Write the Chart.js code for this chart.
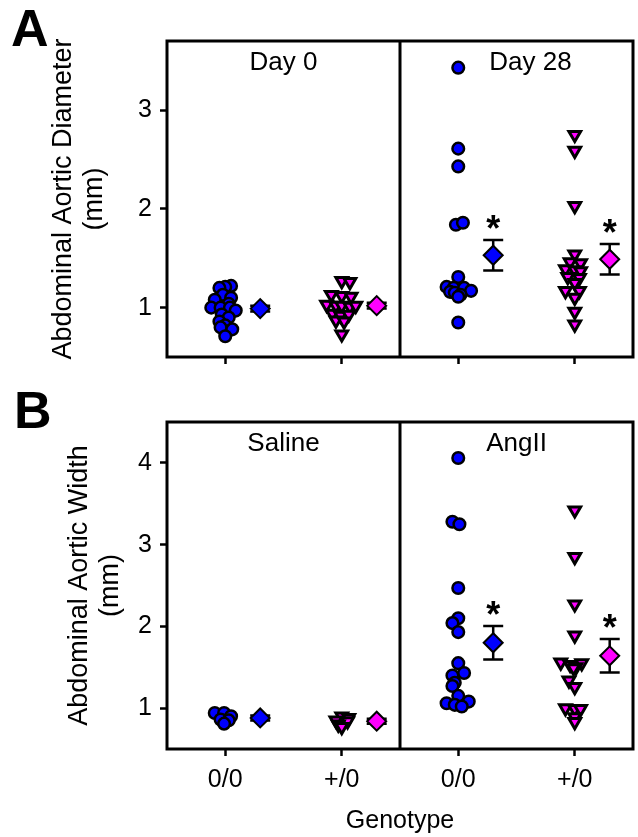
<!DOCTYPE html>
<html>
<head>
<meta charset="utf-8">
<script src="https://cdn.jsdelivr.net/npm/chart.js@4.4.0/dist/chart.umd.min.js"></script>
<style>
  html, body { margin: 0; padding: 0; background: #fff; }
  #wrap { position: relative; width: 638px; height: 837px; }
  #chartA { position: absolute; left: 0; top: 0; }
  #chartB { position: absolute; left: 0; top: 380px; }
</style>
</head>
<body>
<div id="wrap">
  <canvas id="chartA" width="638" height="380"></canvas>
  <canvas id="chartB" width="638" height="457"></canvas>
</div>
<script>
// groups on the x axis (0..3), tick labels
var genotypes = ['0/0', '+/0', '0/0', '+/0'];
var titlesA = ['Day 0', 'Day 28'];
var titlesB = ['Saline', 'AngII'];
var sigA = [false, false, true, true];
var sigB = [false, false, true, true];

// A: abdominal aortic diameter (mm), jitter in group units
var dia_d0_00 = [1.22, 1.21, 1.20, 1.13, 1.10, 1.08, 1.04, 1.00, 1.00, 1.00, 0.97, 0.93, 0.90, 0.86, 0.82, 0.80, 0.78, 0.71];
var dia_d0_00_jit = [0.05, 0.00, -0.05, -0.02, 0.05, -0.09, 0.03, -0.12, -0.04, 0.04, 0.09, -0.03, 0.03, -0.05, 0.00, -0.04, 0.06, 0.00];
var dia_d0_p0 = [1.27, 1.26, 1.13, 1.12, 1.11, 1.03, 1.02, 1.02, 1.01, 1.02, 0.94, 0.92, 0.93, 0.87, 0.86, 0.73];
var dia_d0_p0_jit = [0.00, 0.07, -0.09, 0.00, 0.08, -0.13, -0.05, 0.00, 0.07, 0.12, -0.08, -0.01, 0.06, -0.05, 0.02, 0.00];
var dia_d28_00 = [3.43, 2.61, 2.43, 1.84, 1.86, 1.31, 1.21, 1.20, 1.20, 1.17, 1.16, 1.15, 1.13, 1.11, 0.85];
var dia_d28_00_jit = [0.00, 0.00, 0.00, -0.02, 0.04, 0.00, -0.10, -0.04, 0.05, 0.11, -0.07, -0.03, 0.02, 0.00, 0.00];
var dia_d28_p0 = [2.75, 2.59, 2.03, 1.54, 1.46, 1.45, 1.39, 1.38, 1.37, 1.31, 1.30, 1.25, 1.17, 1.17, 1.10, 0.96, 0.83];
var dia_d28_p0_jit = [0.00, 0.00, 0.00, 0.00, -0.04, 0.05, -0.08, 0.00, 0.05, -0.06, 0.04, 0.00, -0.08, 0.04, 0.00, 0.00, 0.00];
var diaMean = [0.99, 1.02, 1.53, 1.49];
var diaSem = [0.03, 0.03, 0.155, 0.155];

// B: abdominal aortic width (mm)
var wid_sal_00 = [0.94, 0.94, 0.90, 0.86, 0.85, 0.81];
var wid_sal_00_jit = [-0.09, -0.01, 0.05, -0.04, 0.03, -0.01];
var wid_sal_p0 = [0.90, 0.88, 0.85, 0.84, 0.80, 0.77];
var wid_sal_p0_jit = [0.00, 0.06, -0.05, 0.05, -0.03, 0.00];
var wid_ang_00 = [4.06, 3.28, 3.25, 2.47, 2.10, 2.04, 1.93, 1.55, 1.43, 1.40, 1.31, 1.27, 1.15, 1.08, 1.06, 1.04, 1.02];
var wid_ang_00_jit = [0.00, -0.05, 0.01, 0.00, 0.00, -0.05, 0.00, 0.00, 0.05, -0.05, -0.03, -0.05, 0.00, 0.09, -0.10, -0.03, 0.03];
var wid_ang_p0 = [3.42, 2.85, 2.27, 1.89, 1.56, 1.55, 1.53, 1.50, 1.49, 1.34, 1.26, 1.00, 0.99, 0.99, 0.89, 0.83];
var wid_ang_p0_jit = [0.00, 0.00, 0.00, 0.00, -0.12, 0.06, -0.04, 0.01, -0.01, -0.05, 0.00, -0.08, 0.00, 0.05, 0.00, 0.00];
var widMean = [0.88, 0.84, 1.80, 1.64];
var widSem = [0.03, 0.03, 0.205, 0.205];

var FONT = "'Liberation Sans', Arial, sans-serif";
var MEAN_SHIFT = 0.3;
Chart.defaults.font.family = FONT;
Chart.defaults.color = '#000';

function pts(vals, jit, group, style) {
  var ds = {
    data: vals.map(function(v, i) { return {x: group + jit[i], y: v}; }),
    borderColor: '#000',
    pointStyle: style
  };
  if (style === 'circle') {
    ds.backgroundColor = '#0000ff';
    ds.pointRadius = 5.8;
    ds.borderWidth = 2.5;
  } else {
    ds.backgroundColor = '#ff00ff';
    ds.pointRadius = 6.8;
    ds.borderWidth = 3;
    ds.pointRotation = 180;
  }
  return ds;
}

function means(m, groups, color) {
  return {
    data: groups.map(function(g) { return {x: g + MEAN_SHIFT, y: m[g]}; }),
    backgroundColor: color,
    borderColor: '#000',
    borderWidth: 2,
    pointStyle: 'rectRot',
    pointRadius: 9.5
  };
}

var panelPlugin = {
  id: 'panel',
  beforeDatasetsDraw: function(chart, args, o) {
    var ctx = chart.ctx, xs = chart.scales.x, ys = chart.scales.y;
    ctx.save();
    ctx.strokeStyle = '#000';
    ctx.lineWidth = 2.5;
    o.means.forEach(function(m, i) {
      var px = xs.getPixelForValue(i + MEAN_SHIFT);
      var t = ys.getPixelForValue(m + o.sems[i]);
      var b = ys.getPixelForValue(m - o.sems[i]);
      ctx.beginPath();
      ctx.moveTo(px, t); ctx.lineTo(px, b);
      ctx.moveTo(px - 10, t); ctx.lineTo(px + 10, t);
      ctx.moveTo(px - 10, b); ctx.lineTo(px + 10, b);
      ctx.stroke();
    });
    ctx.restore();
  },
  afterDraw: function(chart, args, o) {
    var ctx = chart.ctx, a = chart.chartArea, xs = chart.scales.x, ys = chart.scales.y;
    ctx.save();
    // frame + divider
    ctx.strokeStyle = '#000';
    ctx.lineWidth = 3;
    ctx.strokeRect(a.left, a.top, a.right - a.left, a.bottom - a.top);
    var mid = xs.getPixelForValue(1.5);
    ctx.beginPath();
    ctx.moveTo(mid, a.top); ctx.lineTo(mid, a.bottom);
    ctx.stroke();
    // panel titles
    ctx.fillStyle = '#000';
    ctx.font = '26px ' + FONT;
    ctx.textAlign = 'center';
    ctx.textBaseline = 'alphabetic';
    ctx.fillText(o.titles[0], xs.getPixelForValue(o.titleX[0]), a.top + 29);
    ctx.fillText(o.titles[1], xs.getPixelForValue(o.titleX[1]), a.top + 29);
    // significance stars
    ctx.font = 'bold 36px ' + FONT;
    var ms = ctx.measureText('*');
    var shift = (ms.actualBoundingBoxAscent - ms.actualBoundingBoxDescent) / 2;
    o.sig.forEach(function(s, i) {
      if (!s) return;
      var px = xs.getPixelForValue(i + MEAN_SHIFT);
      var t = ys.getPixelForValue(o.means[i] + o.sems[i]);
      ctx.fillText('*', px, t - 18 + shift);
    });
    // panel letter
    ctx.font = 'bold 52px ' + FONT;
    ctx.textAlign = 'left';
    ctx.fillText(o.letter, o.letterX, o.letterY);
    ctx.restore();
  }
};

function tickGrid() {
  return {drawOnChartArea: false, drawTicks: true, tickLength: 7, tickWidth: 2.5, tickColor: '#000'};
}

function makeChart(id, sets, o) {
  return new Chart(document.getElementById(id), {
    type: 'scatter',
    data: {datasets: sets},
    plugins: [panelPlugin],
    options: {
      responsive: false,
      animation: false,
      layout: {autoPadding: false, padding: {left: 0, right: 5, top: o.top, bottom: 0}},
      plugins: {
        legend: {display: false},
        tooltip: {enabled: false},
        panel: o.panel
      },
      elements: {point: {hoverRadius: 0}},
      scales: {
        x: {
          type: 'linear', min: -0.5, max: 3.5,
          afterBuildTicks: function(s) { s.ticks = [0, 1, 2, 3].map(function(v) { return {value: v}; }); },
          afterFit: function(s) { s.height = o.xHeight; },
          border: {display: false},
          grid: tickGrid(),
          ticks: {
            display: o.xLabels,
            padding: 9,
            font: {size: 25},
            callback: function(v, i) { return genotypes[i]; }
          },
          title: {display: o.xLabels, text: 'Genotype', font: {size: 25}, padding: {top: 0, bottom: 1}}
        },
        y: {
          type: 'linear', min: 0.5, max: o.yMax,
          afterBuildTicks: function(s) { s.ticks = o.yTicks.map(function(v) { return {value: v}; }); },
          afterFit: function(s) { s.width = 167; },
          border: {display: false},
          grid: tickGrid(),
          ticks: {padding: 8, font: {size: 25}},
          title: {
            display: true, text: o.yTitle,
            font: {size: 27, lineHeight: 1.15},
            padding: {top: o.yTitlePad, bottom: 0}
          }
        }
      }
    }
  });
}

makeChart('chartA', [
  pts(dia_d0_00, dia_d0_00_jit, 0, 'circle'),
  pts(dia_d0_p0, dia_d0_p0_jit, 1, 'triangle'),
  pts(dia_d28_00, dia_d28_00_jit, 2, 'circle'),
  pts(dia_d28_p0, dia_d28_p0_jit, 3, 'triangle'),
  means(diaMean, [0, 2], '#0000ff'),
  means(diaMean, [1, 3], '#ff00ff')
], {
  top: 41, xHeight: 14, xLabels: false, yMax: 3.7, yTicks: [1, 2, 3],
  yTitle: ['Abdominal Aortic Diameter', '(mm)'], yTitlePad: 48,
  panel: {means: diaMean, sems: diaSem, sig: sigA, titles: titlesA, titleX: [0.5, 2.62],
          letter: 'A', letterX: 11, letterY: 46}
});

makeChart('chartB', [
  pts(wid_sal_00, wid_sal_00_jit, 0, 'circle'),
  pts(wid_sal_p0, wid_sal_p0_jit, 1, 'triangle'),
  pts(wid_ang_00, wid_ang_00_jit, 2, 'circle'),
  pts(wid_ang_p0, wid_ang_p0_jit, 3, 'triangle'),
  means(widMean, [0, 2], '#0000ff'),
  means(widMean, [1, 3], '#ff00ff')
], {
  top: 42, xHeight: 88, xLabels: true, yMax: 4.5, yTicks: [1, 2, 3, 4],
  yTitle: ['Abdominal Aortic Width', '(mm)'], yTitlePad: 64,
  panel: {means: widMean, sems: widSem, sig: sigB, titles: titlesB, titleX: [0.5, 2.5],
          letter: 'B', letterX: 14, letterY: 48}
});
</script>
</body>
</html>
